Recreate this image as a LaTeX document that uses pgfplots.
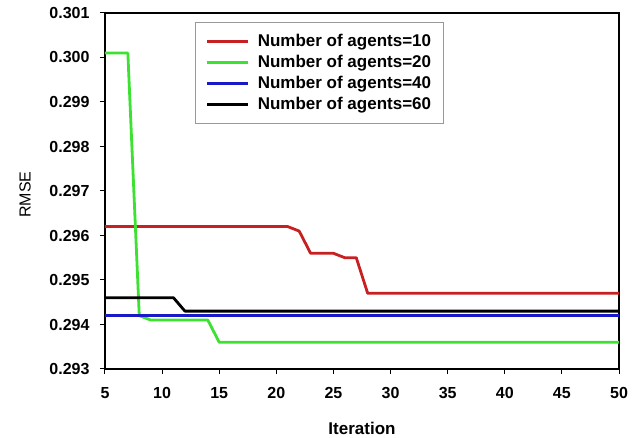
\documentclass[border=0pt]{standalone}
\usepackage{fontspec}
\setmainfont{Liberation Sans}
\usepackage{pgfplots}
\pgfplotsset{compat=1.18}
\definecolor{cred}{RGB}{200,32,32}
\definecolor{cgreen}{RGB}{60,225,50}
\definecolor{cblue}{RGB}{25,25,200}
\begin{document}
\begin{tikzpicture}
\path[use as bounding box] (-105pt,-69pt) rectangle (539pt,369pt);
\begin{axis}[
  at={(0,0)}, anchor=south west,
  scale only axis,
  width=514pt, height=356pt,
  xmin=5, xmax=50, ymin=0.293, ymax=0.301,
  xtick={5,10,...,50},
  ytick={0.293,0.294,...,0.3015},
  scaled y ticks=false,
  axis line style={line width=2.6pt},
  tick style={line width=1pt, black},
  tick align=outside,
  major tick length=5pt,
  xtick pos=bottom, ytick pos=left,
  /pgf/number format/assume math mode=true,
  yticklabel style={xshift=-7pt, /pgf/number format/.cd, fixed, fixed zerofill, precision=3},
  xticklabel style={yshift=-10pt},
  ticklabel style={font=\fontsize{16}{19}\selectfont\bfseries},
  xlabel={Iteration},
  xlabel style={font=\fontsize{17}{20}\selectfont\bfseries, at={(axis description cs:0.5,-0.1657)}, anchor=center},
  ylabel={RMSE},
  ylabel style={font=\fontsize{16}{19}\selectfont, at={(axis description cs:-0.1556,0.49)}, anchor=center},
  legend style={at={(0.176,0.975)}, anchor=north west, draw=gray!80, line width=0.8pt,
    font=\fontsize{17}{20}\selectfont\bfseries, inner xsep=10pt, inner ysep=10pt,
    row sep=3.3pt, cells={anchor=west}},
  legend image code/.code={\draw[#1, line width=3pt] (0pt,0pt) -- (41pt,0pt); \path (47pt,0pt);},
  every axis plot/.append style={line width=2.8pt, line join=round},
]
\addplot[cred] coordinates {(5,0.2962) (21,0.2962) (22,0.2961) (23,0.2956) (25,0.2956) (26,0.2955) (27,0.2955) (28,0.2947) (50,0.2947)};
\addlegendentry{Number of agents=10}
\addplot[cgreen] coordinates {(5,0.3001) (7,0.3001) (8,0.2942) (9,0.2941) (14,0.2941) (15,0.2936) (50,0.2936)};
\addlegendentry{Number of agents=20}
\addplot[cblue] coordinates {(5,0.2942) (50,0.2942)};
\addlegendentry{Number of agents=40}
\addplot[black] coordinates {(5,0.2946) (11,0.2946) (12,0.2943) (50,0.2943)};
\addlegendentry{Number of agents=60}
\end{axis}
\end{tikzpicture}
\end{document}
